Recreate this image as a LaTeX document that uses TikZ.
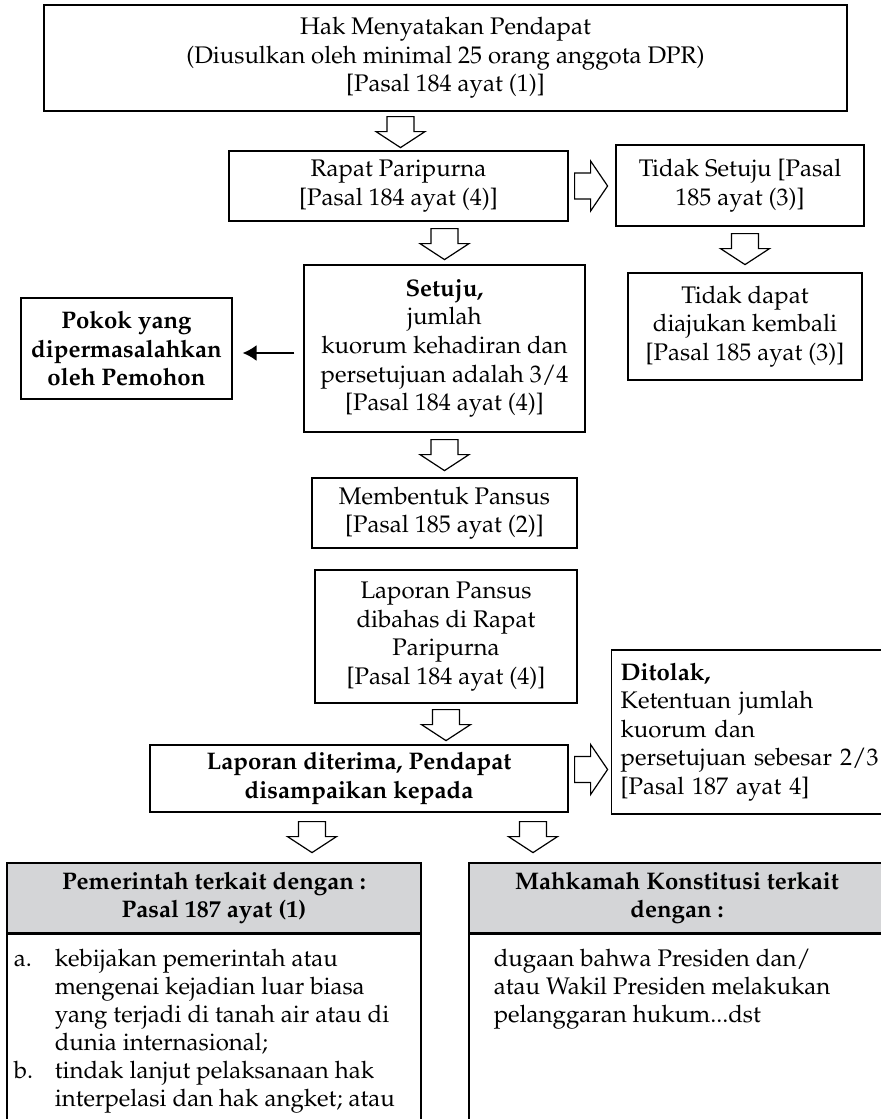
\documentclass[tikz,border=0pt]{standalone}
\usepackage[T1]{fontenc}
\usepackage{mathpazo}
\usetikzlibrary{positioning, calc, arrows.meta}

\definecolor{headgray}{RGB}{212,213,215}

\tikzset{
  flowbox/.style={draw, line width=0.6pt, align=center, inner sep=0pt, font=\fontsize{12}{14.3}\selectfont},
  headbox/.style={flowbox, fill=headgray, font=\bfseries\fontsize{12}{14.3}\selectfont},
  listtext/.style={anchor=north west, inner sep=0pt, align=left, font=\fontsize{12}{14}\selectfont},
  blockarrow/.style={draw, fill=white, line width=0.6pt, line join=miter},
  pointer/.style={-{Latex[length=7pt,width=8pt]}, line width=0.9pt}
}

% hollow block arrows (point = top of stem / left of stem)
\newcommand{\downblock}[1]{\draw[blockarrow] (#1) ++(-13.5,0) -- ++(0,15) -- ++(-11,0) -- ++(24.5,16) -- ++(24.5,-16) -- ++(-11,0) -- ++(0,-15) -- cycle;}
\newcommand{\rightblock}[1]{\draw[blockarrow] (#1) ++(0,-13) -- ++(16,0) -- ++(0,-12) -- ++(17,25) -- ++(-17,25) -- ++(0,-12) -- ++(-16,0) -- cycle;}

\begin{document}
\begin{tikzpicture}[x=0.5pt, y=-0.5pt]
    \path[fill=white, use as bounding box] (0,0) rectangle (880,1119);

    % MAIN FLOW
    \node[flowbox, minimum width=401.5pt, minimum height=53pt] (hak) at (445.5,58)
        {Hak Menyatakan Pendapat\\ (Diusulkan oleh minimal 25 orang anggota DPR)\\ {[Pasal 184 ayat (1)]}};
    \node[flowbox, minimum width=169.5pt, minimum height=35pt] (rapat) at (398.5,186)
        {Rapat Paripurna\\ {[Pasal 184 ayat (4)]}};
    \node[flowbox, minimum width=124pt, minimum height=40.5pt] (tidak) at (740,185.5)
        {Tidak Setuju [Pasal\\ 185 ayat (3)]};
    \node[flowbox, minimum width=117pt, minimum height=53.5pt] (tdapat) at (745,326.5)
        {Tidak dapat\\ diajukan kembali\\ {[Pasal 185 ayat (3)]}};
    \node[flowbox, minimum width=140.5pt, minimum height=83.5pt] (setuju) at (444.5,348.5)
        {\textbf{Setuju,}\\ jumlah\\ kuorum kehadiran dan\\ persetujuan adalah 3/4\\ {[Pasal 184 ayat (4)]}};
    \node[flowbox, font=\bfseries\fontsize{12}{14.3}\selectfont, minimum width=105.5pt, minimum height=50.5pt] (pokok) at (126.5,348.5)
        {Pokok yang\\ dipermasalahkan\\ oleh Pemohon};
    \node[flowbox, minimum width=132.5pt, minimum height=35pt] (bentuk) at (444.5,513)
        {Membentuk Pansus\\ {[Pasal 185 ayat (2)]}};
    \node[flowbox, minimum width=131pt, minimum height=66.5pt] (lappansus) at (446,636.5)
        {Laporan Pansus\\ dibahas di Rapat\\ Paripurna\\ {[Pasal 184 ayat (4)]}};
    \node[flowbox, font=\bfseries\fontsize{12}{14.3}\selectfont, minimum width=209pt, minimum height=33.5pt] (terima) at (359,778.5)
        {Laporan diterima, Pendapat\\ disampaikan kepada};
    \node[flowbox, align=left, text width=140pt, inner sep=4.5pt, minimum height=82pt, anchor=west] (tolak) at (611,732)
        {\textbf{Ditolak,}\\ Ketentuan jumlah\\ kuorum dan\\ persetujuan sebesar 2/3\\ {[Pasal 187 ayat 4]}};

    % BOTTOM TABLES
    \node[headbox, minimum width=207pt, minimum height=35pt] (pemhead) at (214,898)
        {Pemerintah terkait dengan :\\ Pasal 187 ayat (1)};
    \node[flowbox, minimum width=207pt, minimum height=110pt, anchor=north] (pembody) at (pemhead.south) {};
    \node[listtext] (pemlist) at ($(pembody.north west)+(7,12.5)$)
        {\begin{tabular}{@{}p{20.5pt}@{}l@{}}
         a. & kebijakan pemerintah atau\\
            & mengenai kejadian luar biasa\\
            & yang terjadi di tanah air atau di\\
            & dunia internasional;\\
         b. & tindak lanjut pelaksanaan hak\\
            & interpelasi dan hak angket; atau
         \end{tabular}};

    \node[headbox, minimum width=208pt, minimum height=35pt] (mkhead) at (677,898)
        {Mahkamah Konstitusi terkait\\ dengan :};
    \node[flowbox, minimum width=208pt, minimum height=110pt, anchor=north] (mkbody) at (mkhead.south) {};
    \node[listtext] (mklist) at ($(mkbody.north west)+(25,12.5)$)
        {\begin{tabular}{@{}l@{}}
         dugaan bahwa Presiden dan/\\
         atau Wakil Presiden melakukan\\
         pelanggaran hukum...dst
         \end{tabular}};

    % CONNECTORS
    \downblock{$(rapat.north |- hak.south)+(2,5)$}
    \rightblock{$(rapat.east)+(6,0)$}
    \downblock{$(setuju.north |- rapat.south)+(0,7)$}
    \downblock{$(tdapat.north |- tidak.south)+(0,7)$}
    \downblock{$(bentuk.north |- setuju.south)+(0,7)$}
    \downblock{$(lappansus.south)+(0,6)$}
    \rightblock{$(terima.east)+(6,-9)$}
    \downblock{$(terima.south)+(-47,9)$}
    \downblock{$(terima.south)+(174,9)$}

    \draw[pointer] ($(setuju.west)+(-9,4.5)$) -- ($(pokok.east)+(10,4.5)$);

\end{tikzpicture}
\end{document}
